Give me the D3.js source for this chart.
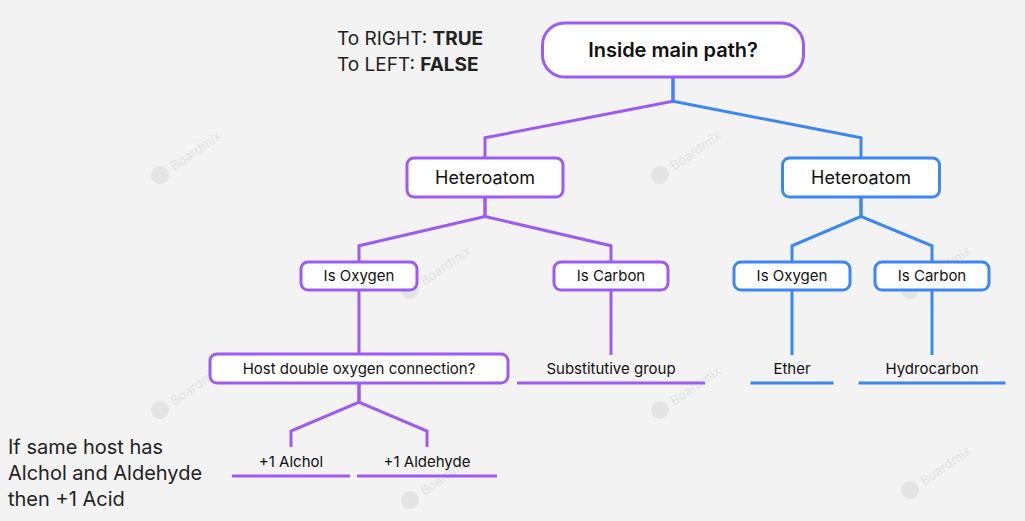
<!DOCTYPE html>
<html><head><meta charset="utf-8">
<script src="https://cdn.jsdelivr.net/npm/d3@7"></script>
<style>body{margin:0;background:#f3f3f3;font-family:Inter,"Noto Sans",sans-serif}</style>
</head><body><svg id="c" width="1025" height="521"></svg>
<script>
// tree content
var labels = ['Inside main path?', 'Heteroatom', 'Heteroatom', 'Is Oxygen', 'Is Carbon', 'Is Oxygen', 'Is Carbon',
  'Host double oxygen connection?', 'Substitutive group', 'Ether', 'Hydrocarbon', '+1 Alchol', '+1 Aldehyde'];
var parents = [null, 0, 0, 1, 1, 2, 2, 3, 4, 5, 6, 7, 7];
var branch = ['p', 'p', 'b', 'p', 'p', 'b', 'b', 'p', 'p', 'b', 'b', 'p', 'p'];
var kinds = ['root', 'box', 'box', 'box', 'box', 'box', 'box', 'box', 'leaf', 'leaf', 'leaf', 'leaf', 'leaf'];
// layout (centre x, top y, width, height)
var cx = [673, 485, 861, 359, 611, 792, 932, 359, 611, 792, 932, 291, 427];
var ty = [23, 158, 158, 262, 262, 262, 262, 354, 355, 355, 355, 447, 447];
var bw = [261, 156, 157, 116, 114, 116, 114, 298, 188, 83, 147, 118, 140];
var bh = [54, 39, 39, 28, 28, 28, 28, 29, 28, 28, 28, 29, 29];
var notes = ['If same host has', 'Alchol and Aldehyde', 'then +1 Acid'];

var col = {p: '#9c5cf3', b: '#3c86f6'};
var svg = d3.select('#c');
var nodes = labels.map(function (l, i) {
  return {label: l, parent: parents[i], br: branch[i], kind: kinds[i], x: cx[i], y: ty[i], w: bw[i], h: bh[i]};
});

// watermarks
var wm = [[160, 175], [660, 175], [410, 290], [160, 410], [660, 410], [910, 290], [910, 490], [410, 500]];
wm.forEach(function (p) {
  var g = svg.append('g').attr('transform', 'translate(' + p[0] + ',' + p[1] + ') rotate(-35)').attr('opacity', 0.09);
  g.append('circle').attr('r', 9).attr('fill', '#555');
  g.append('text').attr('x', 14).attr('y', 5).text('Boardmix').attr('font-size', 13).attr('fill', '#333');
});

// links: parent bottom -> stub -> diagonal -> child top
nodes.forEach(function (n) {
  if (n.parent === null) return;
  var p = nodes[n.parent];
  var py = p.y + p.h, mid = py + (n.y - py) * 0.3, kid = py + (n.y - py) * 0.75;
  var siblings = nodes.filter(function (s) { return s.parent === n.parent; });
  var pts = siblings.length > 1
    ? [[p.x, py], [p.x, mid], [n.x, kid], [n.x, n.y]]
    : [[p.x, py], [n.x, n.y]];
  svg.append('path').attr('d', d3.line()(pts)).attr('fill', 'none')
    .attr('stroke', col[n.br]).attr('stroke-width', 3);
});

nodes.forEach(function (n) {
  var c = col[n.br];
  if (n.kind === 'leaf') {
    svg.append('line').attr('x1', n.x - n.w / 2).attr('x2', n.x + n.w / 2)
      .attr('y1', n.y + n.h).attr('y2', n.y + n.h).attr('stroke', c).attr('stroke-width', 3);
  } else {
    svg.append('rect').attr('x', n.x - n.w / 2).attr('y', n.y).attr('width', n.w).attr('height', n.h)
      .attr('rx', n.kind === 'root' ? 22 : 7).attr('fill', '#fff').attr('stroke', c).attr('stroke-width', 3);
  }
  svg.append('text').attr('x', n.x).attr('y', n.y + n.h / 2).attr('dy', '0.36em')
    .attr('text-anchor', 'middle').attr('fill', '#111')
    .attr('font-size', n.kind === 'root' ? 20 : n.h > 35 ? 18 : 15)
    .attr('font-weight', n.kind === 'root' ? 600 : 400).text(n.label);
});

var leg = svg.append('text').attr('x', 337).attr('y', 45).attr('font-size', 19).attr('fill', '#222');
leg.append('tspan').text('To RIGHT: ');
leg.append('tspan').attr('font-weight', 700).text('TRUE');
var leg2 = svg.append('text').attr('x', 337).attr('y', 71).attr('font-size', 19).attr('fill', '#222');
leg2.append('tspan').text('To LEFT: ');
leg2.append('tspan').attr('font-weight', 700).text('FALSE');

svg.selectAll('.note').data(notes).enter().append('text').attr('class', 'note')
  .attr('x', 8).attr('y', function (d, i) { return 454 + i * 26; })
  .attr('font-size', 20).attr('fill', '#222').text(function (d) { return d; });
</script></body></html>
